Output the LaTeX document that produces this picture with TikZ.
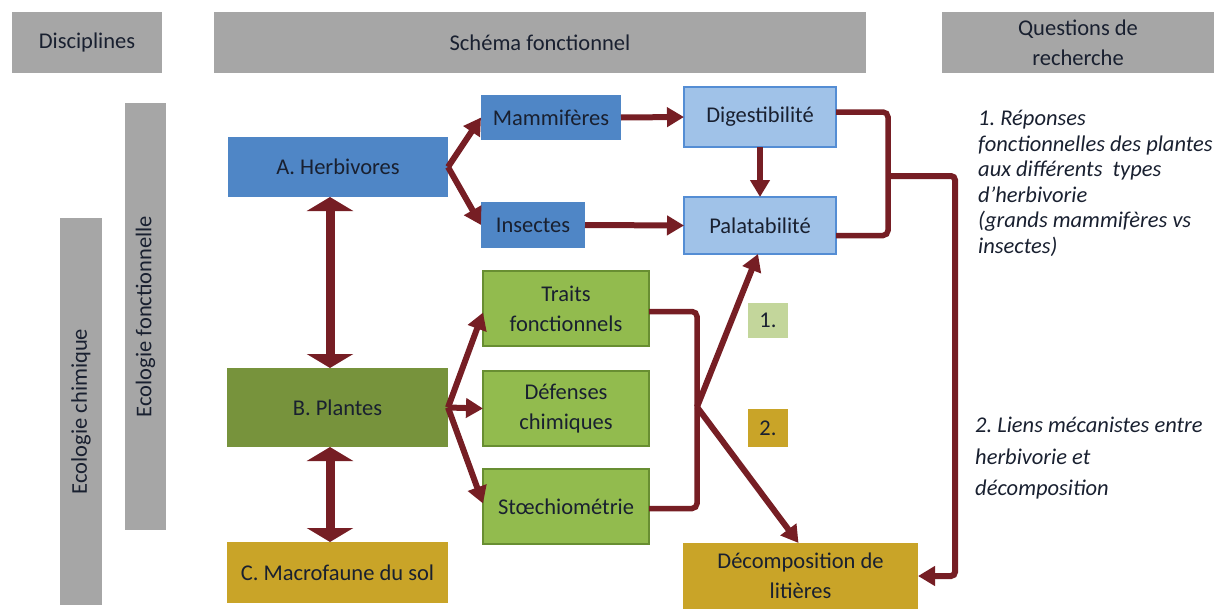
\documentclass[tikz,border=0pt]{standalone}
\usepackage{fontspec}
\setmainfont{Carlito}
\usetikzlibrary{arrows.meta}
\definecolor{hdr}{RGB}{166,166,166}
\definecolor{blueA}{RGB}{79,134,198}
\definecolor{blueL}{RGB}{160,194,232}
\definecolor{blueB}{RGB}{84,141,212}
\definecolor{greenD}{RGB}{119,147,60}
\definecolor{greenL}{RGB}{146,187,78}
\definecolor{greenB}{RGB}{104,142,50}
\definecolor{gold}{RGB}{201,164,40}
\definecolor{lab1c}{RGB}{195,214,155}
\definecolor{arrc}{RGB}{118,30,36}
\definecolor{txt}{RGB}{25,32,48}
\frenchspacing
\begin{document}
\begin{tikzpicture}[x=1pt,y=-1pt,
  every node/.style={text=txt, font=\fontsize{22.5}{30}\selectfont},
  bx/.style={inner sep=0pt, outer sep=0pt, align=center},
  hbox/.style={bx, fill=hdr},
  dblue/.style={bx, fill=blueA},
  lblue/.style={bx, fill=blueL, draw=blueB, line width=2pt},
  dgreen/.style={bx, fill=greenD},
  lgreen/.style={bx, fill=greenL, draw=greenB, line width=2pt},
  goldbox/.style={bx, fill=gold},
  lightlab/.style={bx, fill=lab1c},
  question/.style={inner sep=0pt, align=left, anchor=north west, font=\fontsize{22.5}{25.6}\selectfont\itshape\frenchspacing},
  arr/.style={draw=arrc, line width=6pt, -{Triangle[width=19pt,length=17pt]}},
  line/.style={draw=arrc, line width=5.5pt, rounded corners=5pt},
  bigarr/.style={draw=arrc, line width=9pt, {Triangle[width=46pt,length=14pt]}-{Triangle[width=46pt,length=14pt]}}
]
\useasboundingbox (0,0) rectangle (1226,610);

% headers
\node[hbox, minimum width=150pt, minimum height=61pt] (disc) at (87,42.5) {Disciplines};
\node[hbox, minimum width=652pt, minimum height=61pt] (schema) at (540,42.5) {Schéma fonctionnel};
\node[hbox, minimum width=272pt, minimum height=61pt] (quest) at (1078,42.5) {Questions de\\recherche};

% discipline bars
\node[hbox, minimum width=41pt, minimum height=427pt] (ecofbar) at (145.5,316.5) {};
\node[rotate=90] (ecof) at (ecofbar.center) {Ecologie fonctionnelle};
\node[hbox, minimum width=42pt, minimum height=387pt] (ecocbar) at (81,411.5) {};
\node[rotate=90] (ecoc) at (ecocbar.center) {Ecologie chimique};

% main boxes
\node[dblue, minimum width=220pt, minimum height=60pt] (herb) at (338,167) {A. Herbivores};
\node[dblue, minimum width=140pt, minimum height=45pt] (mamm) at (551,117.5) {Mammifères};
\node[dblue, minimum width=104pt, minimum height=46pt] (insect) at (533,225) {Insectes};
\node[lblue, minimum width=152pt, minimum height=60pt] (dig) at (760,117) {Digestibilité};
\node[lblue, minimum width=152pt, minimum height=57pt] (pal) at (760,225.5) {Palatabilité};

\node[dgreen, minimum width=221pt, minimum height=79pt] (plantes) at (337.5,407.5) {B. Plantes};
\node[lgreen, minimum width=166pt, minimum height=75pt] (traits) at (566,308.5) {Traits\\fonctionnels};
\node[lgreen, minimum width=166pt, minimum height=75pt] (def) at (566,408.5) {Défenses\\chimiques};
\node[lgreen, minimum width=166pt, minimum height=75pt] (stoe) at (566,506.5) {Stœchiométrie};

\node[goldbox, minimum width=221pt, minimum height=61pt] (macro) at (337.5,572.5) {C. Macrofaune du sol};
\node[goldbox, minimum width=235pt, minimum height=66pt] (decomp) at (800.5,576) {Décomposition de\\litières};

\node[lightlab, minimum width=40pt, minimum height=35pt] (lab1) at (768,320.5) {1.};
\node[goldbox, minimum width=40pt, minimum height=38pt] (lab2) at (768,428) {2.};

% question texts
\node[question] (q1) at (978,110) {1. Réponses\\fonctionnelles des plantes\\aux différents\ \ types\\d’herbivorie\\(grands\ mammifères vs\\insectes)};
\node[question, font=\fontsize{22.5}{31.5}\selectfont\itshape\frenchspacing] (q2) at (975,417) {2. Liens mécanistes entre\\herbivorie et\\décomposition};

% vertical double arrows
\draw[bigarr] ([xshift=-8pt]herb.south) -- ([xshift=-7.5pt]plantes.north);
\draw[bigarr] ([xshift=-7.5pt]plantes.south) -- ([xshift=-7.5pt]macro.north);

% herbivore branches
\draw[arr] (herb.east) -- (mamm.west);
\draw[arr] (herb.east) -- (insect.west);
\draw[arr] (mamm.east) -- (dig.west);
\draw[arr] (insect.east) -- (pal.west);
\draw[arr] (dig.south) -- (pal.north);

% bracket digestibilite/palatabilite -> decomposition
\coordinate (qa) at (888,176);
\coordinate (qb) at (955,176);
\draw[line] ([yshift=5pt]dig.east) -| (qa) |- ([yshift=-10pt]pal.east);
\draw[arr, rounded corners=4pt] (qa) -- (qb) |- (decomp.east);

% plant branches
\draw[arr] (plantes.east) -- ([yshift=-4pt]traits.west);
\draw[arr] (plantes.east) -- (def.west);
\draw[arr] (plantes.east) -- ([yshift=3pt]stoe.west);

% bracket plant traits
\coordinate (pa) at (697,407);
\draw[line] ([yshift=-3pt]traits.east) -| (pa) |- ([yshift=-2pt]stoe.east);
\draw[arr] (pa) -- ([xshift=-2pt]pal.south);
\draw[arr] (pa) -- ([xshift=-2pt]decomp.north);
\end{tikzpicture}
\end{document}
